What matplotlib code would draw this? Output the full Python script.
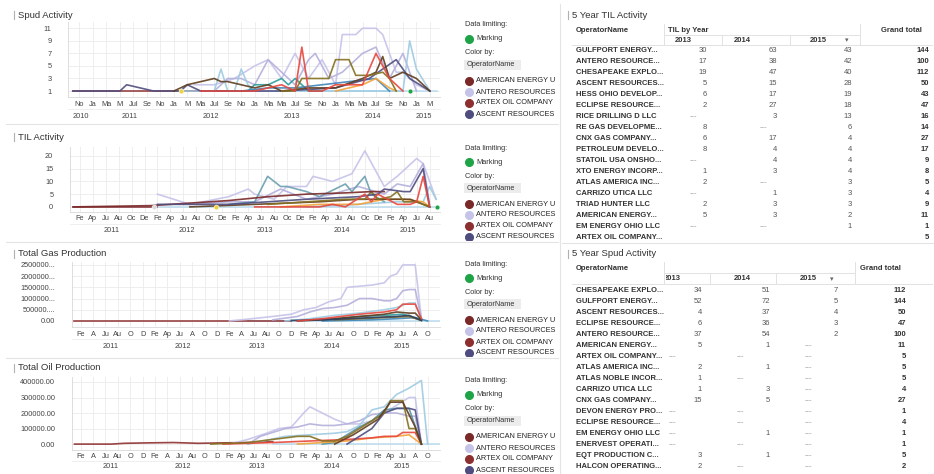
import matplotlib
matplotlib.use("Agg")
import matplotlib.pyplot as plt
from matplotlib.lines import Line2D
from matplotlib.patches import Rectangle

W, H = 934, 474

# ---------------- colours ----------------
C_AMER = "#7b2828"
C_ANTERO = "#c6c3e9"
C_ARTEX = "#8e2f2f"
C_ASCENT = "#4f4d80"
C_LAV2 = "#b4b0dc"
C_LBLUE = "#9fcbe3"
C_PBLUE = "#b8dcec"
C_RED = "#e8473d"
C_OLIVE = "#857020"
C_BROWN = "#5e3d1f"
C_TEAL = "#2d9c9c"
C_ORANGE = "#f2a33a"
C_STEEL = "#3f86b8"
C_NAVY = "#2f3f5f"
C_GREEN = "#1fa347"
C_YELLOW = "#efd23c"

# month index = months since Jan 2010
# ---------------- Spud Activity ----------------
spud_artex_m = [9, 33]
spud_artex_v = [1, 1]
spud_ascent_m = [9, 16, 17, 21, 25, 26, 28, 40, 48, 53, 57, 59, 62]
spud_ascent_v = [1, 1, 2, 1, 1, 2, 1, 1, 1.5, 3, 6, 3, 1]
spud_antero_m = [27, 30, 33, 36, 38, 40, 42, 44, 46, 48, 49, 51, 52, 53, 54, 55, 56, 57, 58, 60, 62]
spud_antero_v = [2, 2, 3, 5, 6, 3, 7, 3, 6, 2, 10, 10, 11, 11, 11, 10, 7, 4, 4, 2, 1]
spud_lav2_m = [30, 32, 34, 36, 38, 39, 40, 42, 44, 45, 47, 49, 50, 52, 54, 56, 58, 60]
spud_lav2_v = [1, 3, 3, 2, 6, 5, 4, 2, 6, 7, 3, 4, 5, 7, 8, 3, 7, 1]
spud_lblue_m = [24, 30, 31, 32, 33, 34, 35, 36, 38, 42, 50, 58, 59, 60, 62]
spud_lblue_v = [1, 1, 4.5, 1, 1, 4.5, 2, 1, 1, 1, 1, 1, 9, 4.5, 1]
spud_pblue_m = [24, 63]
spud_pblue_v = [1, 1]
spud_red_m = [28, 36, 40, 42, 43, 44, 46, 48, 50, 52, 54, 55, 56, 58]
spud_red_v = [1, 1, 2, 1, 8, 1, 1, 2, 2, 2, 7, 5, 3, 1]
spud_olive_m = [40, 42, 43, 47, 48, 50, 51, 53, 55, 56, 57]
spud_olive_v = [1, 1, 3, 3, 6, 6, 3.5, 3.5, 4, 3, 1]
spud_brown_m = [24, 26, 28, 30, 31, 32, 34, 36, 38, 40, 44, 48, 52, 54, 55, 56, 58, 60, 62]
spud_brown_v = [1, 2, 2.5, 3, 2.5, 2.5, 2, 1.5, 2, 1, 1.5, 1.5, 3, 4, 6.5, 3, 4, 3, 1]
spud_teal_m = [32, 35, 36, 38, 40, 41, 42, 44, 46]
spud_teal_v = [1, 1, 2, 2, 3, 2, 3, 1, 1]
spud_orange_m = [48, 50, 52, 54, 56, 57]
spud_orange_v = [1, 1.5, 2, 3, 1.5, 1]
spud_steel_m = [34, 38, 42, 46, 50, 54, 56]
spud_steel_v = [1, 1.5, 1.5, 2, 2.5, 3, 1]
spud_yellow_m, spud_yellow_v = [25], [1]
spud_mark_m, spud_mark_v = [59], [1]
spud_ticks = list(range(10, 63, 2))
spud_labels = ["No", "Ja", "Ma", "M", "Jul", "Se", "No", "Ja", "M", "Ma", "Jul", "Se", "No", "Ja",
               "Ma", "Ma", "Jul", "Se", "No", "Ja", "Ma", "Ma", "Jul", "Se", "No", "Ja", "M"]
spud_yticks = [1, 3, 5, 7, 9, 11]

# ---------------- TIL Activity ----------------
til_amer_m = [12, 24, 30, 36, 42, 48, 54, 58, 60]
til_amer_v = [0, 0.5, 1.5, 2.5, 4, 5, 5.5, 6, 6]
til_artex_m = [12, 25]
til_artex_v = [0, 0]
til_antero_m = [25, 30, 36, 39, 40, 43, 45, 48, 49, 52, 55, 57, 60, 62, 65, 66, 68]
til_antero_v = [5, 1, 4, 7, 5, 3, 8, 8, 12, 10, 13, 22, 8, 12, 19, 17, 3]
til_lav2_m = [30, 36, 40, 44, 48, 52, 56, 60, 62, 64, 66, 67]
til_lav2_v = [1, 2, 2, 7, 3, 5, 8, 5, 9, 8, 17, 1]
til_teal_m = [36, 40, 42, 44, 45, 48, 50, 54, 55, 57, 58, 60]
til_teal_v = [1, 2, 12, 8, 8, 6, 4, 9, 6, 12, 5, 2]
til_ascent_m = [25, 36, 48, 56, 59, 60, 63, 64, 66, 67]
til_ascent_v = [1, 1, 3, 4, 5, 7, 6, 6, 15, 0]
til_red_m = [40, 50, 52, 54, 57, 58, 59, 62, 64, 65, 66, 67]
til_red_v = [0, 0, 1, 0, 5, 2, 5, 1, 1, 2, 12, 0]
til_olive_m = [42, 48, 54, 57, 58, 59, 61, 62, 63, 65, 67]
til_olive_v = [1, 2, 3, 3, 6, 3, 4, 6, 2, 2, 0]
til_pblue_m = [12, 68]
til_pblue_v = [0, 0]
til_lblue_m = [48, 56, 62, 66, 67, 68]
til_lblue_v = [0, 1, 2, 2, 8, 3]
til_orange_m = [44, 50, 56, 60, 63, 66, 67]
til_orange_v = [0, 1, 1, 3, 3, 2, 0]
til_brown_m = [30, 40, 50, 56, 60, 64, 67]
til_brown_v = [0, 1, 2, 3, 3, 3, 0]
til_white_m, til_white_v = [24.5], [0]
til_yellow_m, til_yellow_v = [34], [0]
til_mark_m, til_mark_v = [68.2], [0]
til_ticks = list(range(13, 68, 2))
til_labels = ["Fe", "Ap", "Ju", "Au", "Oc", "De"] * 4 + ["Fe", "Ap", "Ju", "Au"]
til_yticks = [0, 5, 10, 15, 20]

# ---------------- Total Gas Production ----------------
gas_artex_m = [12, 47]
gas_artex_v = [0, 0]
gas_antero_m = [37, 40, 44, 47, 49, 51, 53, 55, 56, 58, 60, 62, 63, 64, 65, 66, 67, 68]
gas_antero_v = [0, 80000, 200000, 300000, 500000, 600000, 850000, 1000000, 1500000, 1550000,
                1600000, 1700000, 2000000, 2100000, 2500000, 2500000, 2500000, 100000]
gas_lav2_m = [44, 48, 50, 52, 54, 56, 58, 60, 62, 63, 64, 65, 66, 67, 68]
gas_lav2_v = [50000, 200000, 400000, 550000, 600000, 700000, 1000000, 1000000, 900000, 900000,
              1000000, 1350000, 1400000, 1400000, 100000]
gas_lblue_m = [46, 50, 54, 58, 62, 64, 66, 67, 68]
gas_lblue_v = [0, 100000, 250000, 350000, 500000, 600000, 800000, 800000, 50000]
gas_red_m = [48, 52, 55, 58, 60, 62, 64, 65, 67, 68]
gas_red_v = [0, 100000, 200000, 300000, 350000, 400000, 500000, 750000, 750000, 100000]
gas_brown_m = [48, 52, 56, 60, 62, 64, 66, 67, 68]
gas_brown_v = [0, 50000, 150000, 250000, 300000, 400000, 350000, 350000, 50000]
gas_navy_m = [47, 52, 56, 60, 64, 66, 68]
gas_navy_v = [20000, 50000, 100000, 150000, 200000, 250000, 20000]
gas_teal_m = [50, 54, 58, 62, 65, 68]
gas_teal_v = [50000, 100000, 200000, 250000, 300000, 50000]
gas_olive_m = [54, 58, 62, 66, 68]
gas_olive_v = [50000, 100000, 150000, 200000, 20000]
gas_steel_m = [52, 60, 64, 67, 69]
gas_steel_v = [0, 50000, 100000, 150000, 0]
gas_pblue_m = [40, 71]
gas_pblue_v = [0, 0]
gas_ticks = list(range(13, 70, 2))
gas_labels = ["Fe", "A", "Ju", "Au", "O", "D", "Fe", "Ap", "Ju", "A", "O", "D",
              "Fe", "A", "Ju", "Au", "O", "D", "Fe", "Ap", "Ju", "Au", "O", "D",
              "Fe", "Ap", "Ju", "A", "O"]
gas_yticks = [0, 500000, 1000000, 1500000, 2000000, 2500000]
gas_ylabels = ["0.00", "500000....", "1000000...", "1500000...", "2000000...", "2500000..."]

# ---------------- Total Oil Production ----------------
oil_artex_m = [12, 18, 20, 24, 28, 32, 36, 40, 44]
oil_artex_v = [0, 0, 5000, 8000, 10000, 5000, 8000, 10000, 15000]
oil_lblue_m = [40, 46, 50, 54, 56, 58, 60, 62, 64, 66, 68, 69]
oil_lblue_v = [0, 50000, 60000, 70000, 80000, 120000, 220000, 240000, 320000, 360000, 410000, 0]
oil_antero_m = [37, 40, 43, 45, 47, 49, 50, 52, 54, 56, 58, 60, 62, 64, 66, 67, 68]
oil_antero_v = [0, 30000, 70000, 100000, 110000, 200000, 240000, 200000, 160000, 130000, 130000,
                150000, 200000, 250000, 300000, 300000, 0]
oil_lav2_m = [40, 42, 46, 48, 50, 52, 54, 56, 58, 60, 62, 64, 66, 67, 68]
oil_lav2_v = [0, 50000, 100000, 110000, 130000, 120000, 120000, 130000, 150000, 190000, 200000,
              200000, 180000, 180000, 0]
oil_steel_m = [52, 54, 56, 58, 60, 62, 64, 66, 68]
oil_steel_v = [0, 10000, 60000, 110000, 150000, 220000, 230000, 230000, 0]
oil_olive_m = [34, 40, 44, 48, 50, 52, 54, 56, 58, 60, 62, 63, 64, 65, 66, 67, 68]
oil_olive_v = [0, 10000, 30000, 50000, 50000, 20000, 20000, 50000, 100000, 150000, 200000,
               280000, 280000, 280000, 100000, 100000, 0]
oil_brown_m = [54, 57, 59, 61, 63, 65, 67, 68]
oil_brown_v = [0, 60000, 110000, 160000, 270000, 270000, 110000, 0]
oil_ascent_m = [56, 60, 62, 64, 66, 67, 68]
oil_ascent_v = [0, 100000, 200000, 230000, 230000, 220000, 0]
oil_red_m = [36, 44, 50, 56, 60, 62, 64, 65, 67, 68]
oil_red_v = [0, 10000, 20000, 30000, 40000, 50000, 50000, 75000, 75000, 0]
oil_orange_m = [48, 56, 60, 64, 66, 68]
oil_orange_v = [0, 20000, 40000, 50000, 60000, 0]
oil_pblue_m = [44, 71]
oil_pblue_v = [0, 0]
oil_ticks = list(range(13, 70, 2))
oil_labels = ["Fe", "A", "Ju", "Au", "O", "D", "Fe", "A", "Ju", "Au", "O", "D",
              "Fe", "Ap", "Ju", "Au", "O", "D", "Fe", "Ap", "Ju", "A", "O", "D",
              "Fe", "Ap", "Ju", "A", "O"]
oil_yticks = [0, 100000, 200000, 300000, 400000]
oil_ylabels = ["0.00", "100000.00", "200000.00", "300000.00", "400000.00"]

legend_names = ["AMERICAN ENERGY U", "ANTERO RESOURCES", "ARTEX OIL COMPANY", "ASCENT RESOURCES"]
legend_colors = [C_AMER, C_ANTERO, C_ARTEX, C_ASCENT]

# ---------------- tables ----------------
til_ops = ["GULFPORT ENERGY...", "ANTERO RESOURCE...", "CHESAPEAKE EXPLO...", "ASCENT RESOURCES...",
           "HESS OHIO DEVELOP...", "ECLIPSE RESOURCE...", "RICE DRILLING D LLC", "RE GAS DEVELOPME...",
           "CNX GAS COMPANY...", "PETROLEUM DEVELO...", "STATOIL USA ONSHO...", "XTO ENERGY INCORP...",
           "ATLAS AMERICA INC...", "CARRIZO UTICA LLC", "TRIAD HUNTER LLC", "AMERICAN ENERGY...",
           "EM ENERGY OHIO LLC", "ARTEX OIL COMPANY..."]
til_2013 = [30, 17, 19, 5, 6, 2, None, 8, 6, 8, None, 1, 2, None, 2, 5, None, None]
til_2014 = [63, 38, 47, 15, 17, 27, 3, None, 17, 4, 4, 3, None, 1, 3, 3, None, None]
til_2015 = [43, 42, 40, 28, 19, 18, 13, 6, 4, 4, 4, 4, 3, 3, 3, 2, 1, None]
til_total = [144, 100, 112, 50, 43, 47, 16, 14, 27, 17, 9, 8, 5, 4, 9, 11, 1, 5]

spud_ops = ["CHESAPEAKE EXPLO...", "GULFPORT ENERGY...", "ASCENT RESOURCES...", "ECLIPSE RESOURCE...",
            "ANTERO RESOURCE...", "AMERICAN ENERGY...", "ARTEX OIL COMPANY...", "ATLAS AMERICA INC...",
            "ATLAS NOBLE INCOR...", "CARRIZO UTICA LLC", "CNX GAS COMPANY...", "DEVON ENERGY PRO...",
            "ECLIPSE RESOURCE...", "EM ENERGY OHIO LLC", "ENERVEST OPERATI...", "EQT PRODUCTION C...",
            "HALCON OPERATING..."]
spud_2013 = [34, 52, 4, 6, 37, 5, None, 2, 1, 1, 15, None, None, None, None, 3, 2]
spud_2014 = [51, 72, 37, 36, 54, 1, None, 1, None, 3, 5, None, None, 1, None, 1, None]
spud_2015 = [7, 5, 4, 3, 2, None, None, None, None, None, None, None, None, None, None, None, None]
spud_total = [112, 144, 50, 47, 100, 11, 5, 5, 5, 4, 27, 1, 4, 1, 1, 5, 2]

plt.rcParams["font.family"] = ["Liberation Sans", "DejaVu Sans"]
fig = plt.figure(figsize=(W / 100, H / 100), dpi=100)
fig.patch.set_facecolor("white")

FS = 5.3   # small text
TFS = 5.5  # table text


def pbox(x0, y0, x1, y1):
    return [x0 / W, 1 - y1 / H, (x1 - x0) / W, (y1 - y0) / H]


def ftext(x, y, s, **kw):
    return fig.text(x / W, 1 - y / H, s, **kw)


def fline(x0, y0, x1, y1, color="#e2e2e2", lw=0.7):
    fig.add_artist(Line2D([x0 / W, x1 / W], [1 - y0 / H, 1 - y1 / H], color=color, lw=lw,
                          transform=fig.transFigure))


def fdot(x, y, color, size=5.5):
    fig.add_artist(Line2D([x / W], [1 - y / H], marker="o", ms=size, color=color, lw=0,
                          transform=fig.transFigure))


def clip_rect(x0, y0, x1, y1):
    return Rectangle((x0 / W, 1 - y1 / H), (x1 - x0) / W, (y1 - y0) / H, transform=fig.transFigure,
                     fill=False, lw=0)


def title(x, y, s):
    fline(x - 4, y - 4, x - 4, y + 4, color="#b0b0b0", lw=0.8)
    ftext(x, y, s, fontsize=6.8, color="#333333", va="center", ha="left")


def legend(y0, y1):
    cr = clip_rect(455, y0 - 12, 556, y1)
    ftext(465, y0, "Data limiting:", fontsize=FS, color="#333333", va="center")
    fdot(469, y0 + 14, C_GREEN)
    ftext(476, y0 + 14, "Marking", fontsize=FS, color="#333333", va="center")
    ftext(465, y0 + 28, "Color by:", fontsize=FS, color="#333333", va="center")
    fig.add_artist(Rectangle((464 / W, 1 - (y0 + 45) / H), 57 / W, 10 / H, transform=fig.transFigure,
                             facecolor="#ececec", edgecolor="none"))
    ftext(467, y0 + 40, "OperatorName", fontsize=FS, color="#333333", va="center")
    for i, (nm, c) in enumerate(zip(legend_names, legend_colors)):
        yy = y0 + 56 + 11 * i
        if yy - 4 > y1:
            break
        d = Line2D([469 / W], [1 - yy / H], marker="o", ms=5.5, color=c, lw=0, transform=fig.transFigure)
        fig.add_artist(d)
        d.set_clip_path(cr)
        t = ftext(476, yy, nm, fontsize=FS, color="#222222", va="center")
        t.set_clip_path(cr)


def chart(box, series, points, xlim, ylim, yticks, ylabels, mticks, mlabels, years, month_y, year_y, ypad):
    x0, y0, x1, y1 = box
    ax = fig.add_axes(pbox(*box))
    for m, v, c in series:
        ax.plot(m, v, color=c, lw=1.2, alpha=0.9, solid_joinstyle="round")
    for m, v, c in points:
        ax.plot(m, v, "o", color=c, ms=3.5, mec="white", mew=0.4)
    ax.set_xlim(*xlim)
    ax.set_ylim(*ylim)
    ax.set_xticks(mticks)
    ax.set_xticklabels([])
    ax.set_yticks(yticks)
    ax.set_yticklabels(ylabels, fontsize=FS, color="#444444")
    ax.tick_params(length=0, pad=ypad)
    ax.grid(color="#ebebeb", lw=0.6)
    ax.set_axisbelow(True)
    for s in ["top", "right"]:
        ax.spines[s].set_visible(False)
    for s in ["left", "bottom"]:
        ax.spines[s].set_color("#d8d8d8")
        ax.spines[s].set_linewidth(0.6)
    tr = ax.get_xaxis_transform()
    hgt = y1 - y0
    for m, lab in zip(mticks, mlabels):
        ax.text(m, (y1 - month_y) / hgt, lab, transform=tr, ha="center", va="center",
                fontsize=FS, color="#444444", clip_on=False)
    lo = xlim[0] + 0.7
    hi = xlim[1] - 0.7
    for yr in years:
        a = max(lo, (yr - 2010) * 12 - 0.5)
        b = min(hi, (yr - 2010) * 12 + 11.5)
        ax.text((a + b) / 2, (y1 - year_y) / hgt, str(yr), transform=tr, ha="center", va="center",
                fontsize=FS, color="#444444", clip_on=False)
    fline(x0, (month_y + year_y) / 2 - 1, x1, (month_y + year_y) / 2 - 1, color="#ececec", lw=0.6)
    return ax


# ---------------- charts ----------------
title(18, 15, "Spud Activity")
chart((68, 22, 440, 97),
      [(spud_pblue_m, spud_pblue_v, C_PBLUE), (spud_artex_m, spud_artex_v, C_ARTEX),
       (spud_antero_m, spud_antero_v, C_ANTERO), (spud_lav2_m, spud_lav2_v, C_LAV2),
       (spud_lblue_m, spud_lblue_v, C_LBLUE), (spud_teal_m, spud_teal_v, C_TEAL),
       (spud_steel_m, spud_steel_v, C_STEEL), (spud_orange_m, spud_orange_v, C_ORANGE),
       (spud_ascent_m, spud_ascent_v, C_ASCENT), (spud_brown_m, spud_brown_v, C_BROWN),
       (spud_olive_m, spud_olive_v, C_OLIVE), (spud_red_m, spud_red_v, C_RED)],
      [(spud_yellow_m, spud_yellow_v, C_YELLOW), (spud_mark_m, spud_mark_v, C_GREEN)],
      (8.3, 63.5), (0.05, 12.0), spud_yticks, [str(t) for t in spud_yticks],
      spud_ticks, spud_labels, [2010, 2011, 2012, 2013, 2014, 2015], 104, 116, 12)
legend(25, 121)

title(18, 137, "TIL Activity")
chart((70, 147, 440, 212),
      [(til_pblue_m, til_pblue_v, C_PBLUE), (til_artex_m, til_artex_v, C_ARTEX),
       (til_antero_m, til_antero_v, C_ANTERO), (til_lav2_m, til_lav2_v, C_LAV2),
       (til_lblue_m, til_lblue_v, C_LBLUE), (til_teal_m, til_teal_v, "#6a9fb0"),
       (til_orange_m, til_orange_v, C_ORANGE), (til_brown_m, til_brown_v, C_BROWN),
       (til_olive_m, til_olive_v, C_OLIVE), (til_amer_m, til_amer_v, C_AMER),
       (til_ascent_m, til_ascent_v, C_ASCENT), (til_red_m, til_red_v, C_RED)],
      [(til_white_m, til_white_v, "#dddddd"), (til_yellow_m, til_yellow_v, C_YELLOW),
       (til_mark_m, til_mark_v, C_GREEN)],
      (11.5, 68.6), (-2, 23.5), til_yticks, [str(t) for t in til_yticks],
      til_ticks, til_labels, [2011, 2012, 2013, 2014, 2015], 219, 231, 12)
legend(148, 240)

title(18, 254, "Total Gas Production")
chart((72, 262, 440, 327),
      [(gas_pblue_m, gas_pblue_v, C_PBLUE), (gas_artex_m, gas_artex_v, C_ARTEX),
       (gas_antero_m, gas_antero_v, C_ANTERO), (gas_lav2_m, gas_lav2_v, C_LAV2),
       (gas_lblue_m, gas_lblue_v, C_LBLUE), (gas_teal_m, gas_teal_v, C_TEAL),
       (gas_steel_m, gas_steel_v, C_STEEL), (gas_olive_m, gas_olive_v, C_OLIVE),
       (gas_brown_m, gas_brown_v, C_BROWN), (gas_navy_m, gas_navy_v, C_NAVY),
       (gas_red_m, gas_red_v, C_RED)],
      [],
      (11.6, 71.0), (-270000, 2630000), gas_yticks, gas_ylabels,
      gas_ticks, gas_labels, [2011, 2012, 2013, 2014, 2015], 334, 346, 12)
legend(264, 356)

title(18, 368, "Total Oil Production")
chart((72, 377, 440, 450),
      [(oil_pblue_m, oil_pblue_v, C_PBLUE), (oil_artex_m, oil_artex_v, C_ARTEX),
       (oil_antero_m, oil_antero_v, C_ANTERO), (oil_lav2_m, oil_lav2_v, C_LAV2),
       (oil_lblue_m, oil_lblue_v, C_LBLUE), (oil_steel_m, oil_steel_v, "#5a93a8"),
       (oil_orange_m, oil_orange_v, C_ORANGE), (oil_red_m, oil_red_v, C_RED),
       (oil_ascent_m, oil_ascent_v, C_ASCENT), (oil_olive_m, oil_olive_v, C_OLIVE),
       (oil_brown_m, oil_brown_v, C_BROWN)],
      [],
      (11.6, 71.0), (-38000, 432000), oil_yticks, oil_ylabels,
      oil_ticks, oil_labels, [2011, 2012, 2013, 2014, 2015], 456, 467, 12)
legend(381, 474)

# panel separators
for yy in [124, 242, 358]:
    fline(6, yy, 558, yy, color="#e4e4e4", lw=0.8)
fline(560, 4, 560, 474, color="#e4e4e4", lw=0.8)
fline(562, 243, 934, 243, color="#e4e4e4", lw=0.8)


# ---------------- tables ----------------
def cell(x, y, v, clip, bold=False, color="#555555", ha="right"):
    s = "---" if v is None else str(v)
    if v is None:
        color = "#9a9a9a"
    t = ftext(x, y, s, fontsize=TFS, color=color, ha=ha, va="center",
              fontweight="bold" if bold else "normal")
    t.set_clip_path(clip)
    return t


hdr = dict(fontsize=TFS, color="#333333", va="center", fontweight="bold")

# TIL table
title(572, 15, "5 Year TIL Activity")
clip_top = clip_rect(565, 20, 934, 241)
ftext(576, 30, "OperatorName", **hdr)
ftext(668, 30, "TIL by Year", **hdr)
ftext(901, 30, "Grand total", ha="center", **hdr)
for x, s in [(683, "2013"), (742, "2014"), (818, "2015")]:
    ftext(x, 40, s, ha="center", **hdr)
ftext(847, 40, "\u25be", fontsize=5, color="#666666", ha="center", va="center", family="DejaVu Sans")
fline(664, 24, 664, 45)
fline(860, 24, 860, 45)
fline(664, 35, 860, 35)
fline(722, 35, 722, 45)
fline(790, 35, 790, 45)
fline(572, 45, 932, 45)
for i, name in enumerate(til_ops):
    y = 50 + 11.05 * i
    t = ftext(576, y, name, fontsize=TFS, color="#333333", va="center", fontweight="bold")
    t.set_clip_path(clip_top)
    for right, vals in [(707, til_2013), (777, til_2014), (852, til_2015)]:
        v = vals[i]
        if v is None and name.startswith("ARTEX"):
            continue
        if v is None:
            cell(right - 14, y, v, clip_top, ha="center")
        else:
            cell(right, y, v, clip_top)
    cell(929, y, til_total[i], clip_top, bold=True, color="#333333")

# Spud table
title(572, 254, "5 Year Spud Activity")
clip_bot = clip_rect(565, 258, 934, 474)
clip_data = clip_rect(666, 258, 934, 474)
ftext(576, 268, "OperatorName", **hdr)
ftext(880, 268, "Grand total", ha="center", **hdr)
for x, s in [(672, "2013"), (742, "2014"), (808, "2015")]:
    t = ftext(x, 279, s, ha="center", **hdr)
    t.set_clip_path(clip_data)
ftext(832, 279, "\u25be", fontsize=5, color="#666666", ha="center", va="center", family="DejaVu Sans")
fline(664, 262, 664, 284)
fline(855, 262, 855, 284)
fline(664, 273, 855, 273)
fline(710, 273, 710, 284)
fline(776, 273, 776, 284)
fline(572, 284, 932, 284)
for i, name in enumerate(spud_ops):
    y = 290 + 11.06 * i
    t = ftext(576, y, name, fontsize=TFS, color="#333333", va="center", fontweight="bold")
    t.set_clip_path(clip_bot)
    for right, vals in [(702, spud_2013), (770, spud_2014), (838, spud_2015)]:
        v = vals[i]
        if v is None:
            cell(right - 30, y, v, clip_data, ha="center")
        else:
            cell(right, y, v, clip_data)
    cell(906, y, spud_total[i], clip_bot, bold=True, color="#333333")

fig.savefig("out.png", dpi=100, facecolor="white")
